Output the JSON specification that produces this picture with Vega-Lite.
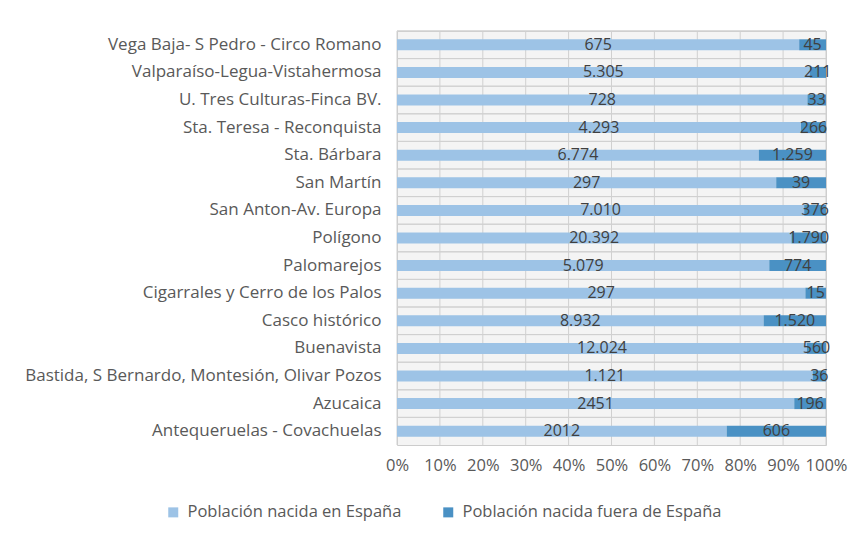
{
  "$schema": "https://vega.github.io/schema/vega-lite/v6.json",
  "autosize": {"type": "none"},
  "width": 429,
  "height": 414,
  "padding": {"left": 397, "top": 31, "right": 32, "bottom": 96},
  "background": "#ffffff",
  "config": {
    "font": "Open Sans",
    "view": {"fill": "#f4f4f4", "stroke": "#cccccc", "strokeWidth": 1}
  },
  "datasets": {
    "poblacion": [
      {"zona": "Vega Baja- S Pedro - Circo Romano", "grupo": "Población nacida en España", "orden": 1, "valor": 675, "etiqueta": "675"},
      {"zona": "Vega Baja- S Pedro - Circo Romano", "grupo": "Población nacida fuera de España", "orden": 2, "valor": 45, "etiqueta": "45"},
      {"zona": "Valparaíso-Legua-Vistahermosa", "grupo": "Población nacida en España", "orden": 1, "valor": 5305, "etiqueta": "5.305"},
      {"zona": "Valparaíso-Legua-Vistahermosa", "grupo": "Población nacida fuera de España", "orden": 2, "valor": 211, "etiqueta": "211"},
      {"zona": "U. Tres Culturas-Finca BV.", "grupo": "Población nacida en España", "orden": 1, "valor": 728, "etiqueta": "728"},
      {"zona": "U. Tres Culturas-Finca BV.", "grupo": "Población nacida fuera de España", "orden": 2, "valor": 33, "etiqueta": "33"},
      {"zona": "Sta. Teresa - Reconquista", "grupo": "Población nacida en España", "orden": 1, "valor": 4293, "etiqueta": "4.293"},
      {"zona": "Sta. Teresa - Reconquista", "grupo": "Población nacida fuera de España", "orden": 2, "valor": 266, "etiqueta": "266"},
      {"zona": "Sta. Bárbara", "grupo": "Población nacida en España", "orden": 1, "valor": 6774, "etiqueta": "6.774"},
      {"zona": "Sta. Bárbara", "grupo": "Población nacida fuera de España", "orden": 2, "valor": 1259, "etiqueta": "1.259"},
      {"zona": "San Martín", "grupo": "Población nacida en España", "orden": 1, "valor": 297, "etiqueta": "297"},
      {"zona": "San Martín", "grupo": "Población nacida fuera de España", "orden": 2, "valor": 39, "etiqueta": "39"},
      {"zona": "San Anton-Av. Europa", "grupo": "Población nacida en España", "orden": 1, "valor": 7010, "etiqueta": "7.010"},
      {"zona": "San Anton-Av. Europa", "grupo": "Población nacida fuera de España", "orden": 2, "valor": 376, "etiqueta": "376"},
      {"zona": "Polígono", "grupo": "Población nacida en España", "orden": 1, "valor": 20392, "etiqueta": "20.392"},
      {"zona": "Polígono", "grupo": "Población nacida fuera de España", "orden": 2, "valor": 1790, "etiqueta": "1.790"},
      {"zona": "Palomarejos", "grupo": "Población nacida en España", "orden": 1, "valor": 5079, "etiqueta": "5.079"},
      {"zona": "Palomarejos", "grupo": "Población nacida fuera de España", "orden": 2, "valor": 774, "etiqueta": "774"},
      {"zona": "Cigarrales y Cerro de los Palos", "grupo": "Población nacida en España", "orden": 1, "valor": 297, "etiqueta": "297"},
      {"zona": "Cigarrales y Cerro de los Palos", "grupo": "Población nacida fuera de España", "orden": 2, "valor": 15, "etiqueta": "15"},
      {"zona": "Casco histórico", "grupo": "Población nacida en España", "orden": 1, "valor": 8932, "etiqueta": "8.932"},
      {"zona": "Casco histórico", "grupo": "Población nacida fuera de España", "orden": 2, "valor": 1520, "etiqueta": "1.520"},
      {"zona": "Buenavista", "grupo": "Población nacida en España", "orden": 1, "valor": 12024, "etiqueta": "12.024"},
      {"zona": "Buenavista", "grupo": "Población nacida fuera de España", "orden": 2, "valor": 560, "etiqueta": "560"},
      {"zona": "Bastida, S Bernardo, Montesión, Olivar Pozos", "grupo": "Población nacida en España", "orden": 1, "valor": 1121, "etiqueta": "1.121"},
      {"zona": "Bastida, S Bernardo, Montesión, Olivar Pozos", "grupo": "Población nacida fuera de España", "orden": 2, "valor": 36, "etiqueta": "36"},
      {"zona": "Azucaica", "grupo": "Población nacida en España", "orden": 1, "valor": 2451, "etiqueta": "2451"},
      {"zona": "Azucaica", "grupo": "Población nacida fuera de España", "orden": 2, "valor": 196, "etiqueta": "196"},
      {"zona": "Antequeruelas - Covachuelas", "grupo": "Población nacida en España", "orden": 1, "valor": 2012, "etiqueta": "2012"},
      {"zona": "Antequeruelas - Covachuelas", "grupo": "Población nacida fuera de España", "orden": 2, "valor": 606, "etiqueta": "606"}
    ],
    "rejilla": [
      {"g": 0}, {"g": 0.1}, {"g": 0.2}, {"g": 0.3}, {"g": 0.4}, {"g": 0.5},
      {"g": 0.6}, {"g": 0.7}, {"g": 0.8}, {"g": 0.9}, {"g": 1}
    ]
  },
  "layer": [
    {
      "data": {"name": "rejilla"},
      "mark": {"type": "rule", "color": "#d0d0d0", "strokeWidth": 1},
      "encoding": {
        "x": {
          "field": "g",
          "type": "quantitative",
          "title": null,
          "scale": {"domain": [0, 1]},
          "axis": {
            "format": ".0%",
            "values": [0, 0.1, 0.2, 0.3, 0.4, 0.5, 0.6, 0.7, 0.8, 0.9, 1],
            "labelOverlap": false,
            "domain": false,
            "ticks": false,
            "grid": false,
            "labelFontSize": 16.5,
            "labelColor": "#595959",
            "labelPadding": 12,
            "labelFlush": false
          }
        }
      }
    },
    {
      "data": {"name": "poblacion"},
      "mark": {"type": "rule", "color": "#d0d0d0", "strokeWidth": 1},
      "encoding": {
        "y": {
          "field": "zona",
          "type": "nominal",
          "sort": null,
          "title": null,
          "bandPosition": 0,
          "scale": {"paddingInner": 0, "paddingOuter": 0},
          "axis": {
            "domain": false,
            "ticks": false,
            "grid": false,
            "labelFontSize": 17,
            "labelColor": "#595959",
            "labelPadding": 16,
            "labelLimit": 450
          }
        }
      }
    },
    {
      "data": {"name": "poblacion"},
      "mark": {"type": "bar", "height": 11},
      "encoding": {
        "y": {
          "field": "zona",
          "type": "nominal",
          "sort": null,
          "title": null,
          "scale": {"paddingInner": 0, "paddingOuter": 0},
          "axis": {
            "domain": false,
            "ticks": false,
            "grid": false,
            "labelFontSize": 17,
            "labelColor": "#595959",
            "labelPadding": 16,
            "labelLimit": 450
          }
        },
        "x": {
          "field": "valor",
          "type": "quantitative",
          "stack": "normalize",
          "title": null,
          "scale": {"domain": [0, 1]},
          "axis": {
            "format": ".0%",
            "values": [0, 0.1, 0.2, 0.3, 0.4, 0.5, 0.6, 0.7, 0.8, 0.9, 1],
            "labelOverlap": false,
            "domain": false,
            "ticks": false,
            "grid": false,
            "labelFontSize": 16.5,
            "labelColor": "#595959",
            "labelPadding": 12,
            "labelFlush": false
          }
        },
        "color": {
          "field": "grupo",
          "type": "nominal",
          "scale": {
            "domain": ["Población nacida en España", "Población nacida fuera de España"],
            "range": ["#9dc3e6", "#4a91c4"]
          },
          "legend": {
            "title": null,
            "orient": "none",
            "direction": "horizontal",
            "legendX": -232,
            "legendY": 473,
            "symbolType": "square",
            "symbolSize": 100,
            "symbolStrokeWidth": 0,
            "labelFontSize": 16.5,
            "labelColor": "#595959",
            "labelOffset": 6,
            "columnPadding": 38,
            "labelLimit": 400
          }
        },
        "order": {"field": "orden", "type": "quantitative"}
      }
    },
    {
      "data": {"name": "poblacion"},
      "mark": {"type": "text", "fontSize": 16, "color": "#404040", "align": "center", "baseline": "middle"},
      "encoding": {
        "y": {
          "field": "zona",
          "type": "nominal",
          "sort": null,
          "title": null,
          "scale": {"paddingInner": 0, "paddingOuter": 0},
          "axis": {
            "domain": false,
            "ticks": false,
            "grid": false,
            "labelFontSize": 17,
            "labelColor": "#595959",
            "labelPadding": 16,
            "labelLimit": 450
          }
        },
        "x": {
          "field": "valor",
          "type": "quantitative",
          "stack": "normalize",
          "bandPosition": 0.5,
          "title": null,
          "scale": {"domain": [0, 1]},
          "axis": {
            "format": ".0%",
            "values": [0, 0.1, 0.2, 0.3, 0.4, 0.5, 0.6, 0.7, 0.8, 0.9, 1],
            "labelOverlap": false,
            "domain": false,
            "ticks": false,
            "grid": false,
            "labelFontSize": 16.5,
            "labelColor": "#595959",
            "labelPadding": 12,
            "labelFlush": false
          }
        },
        "text": {"field": "etiqueta", "type": "nominal"},
        "order": {"field": "orden", "type": "quantitative"},
        "detail": {"field": "grupo", "type": "nominal"}
      }
    }
  ]
}
